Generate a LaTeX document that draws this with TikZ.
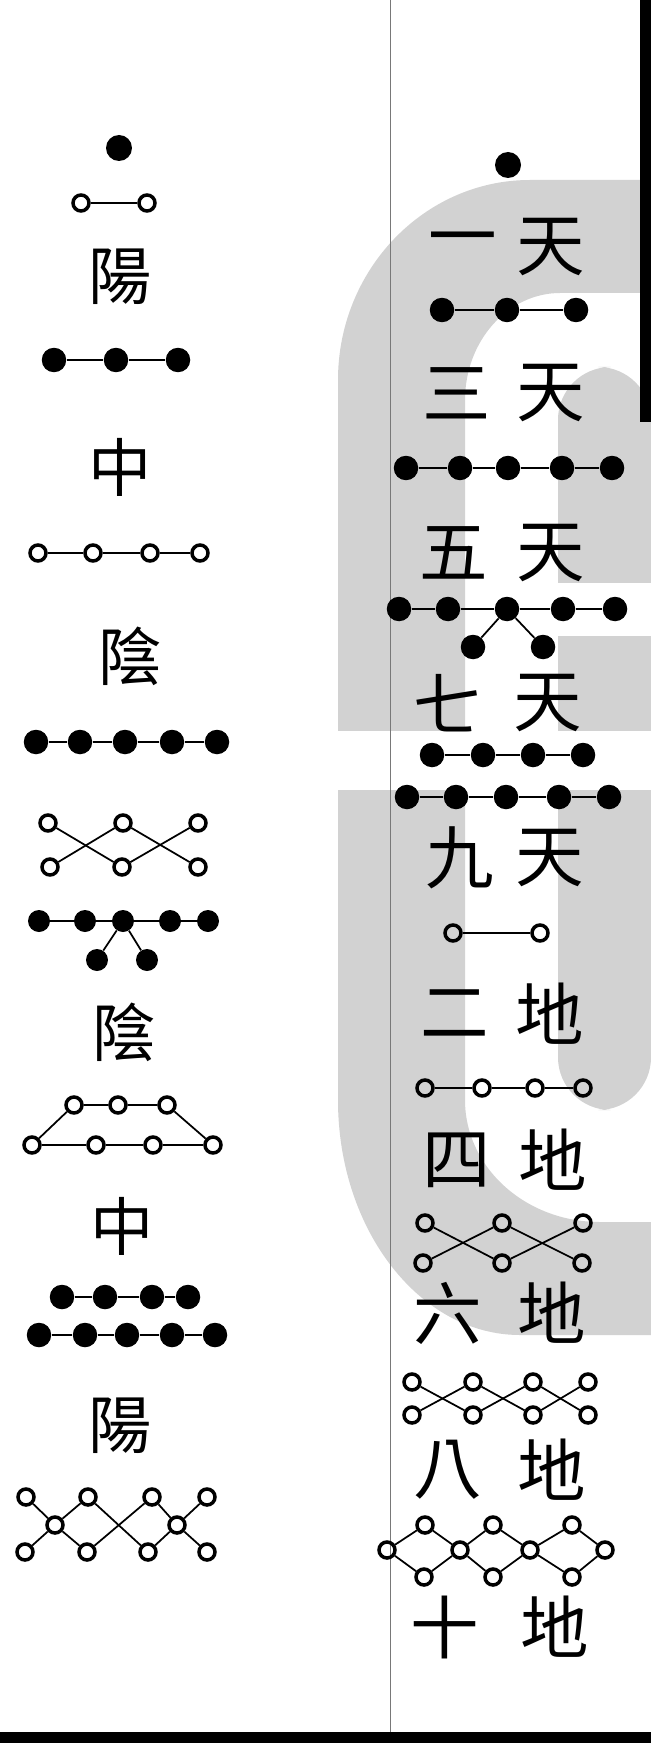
\documentclass[tikz,border=0pt]{standalone}
\usepackage{fontspec}
\newfontfamily\cjk{Noto Sans CJK TC}
\definecolor{wmgray}{RGB}{210,210,210}
\definecolor{rulegray}{RGB}{120,120,120}

\begin{document}
\begin{tikzpicture}[
    x=0.02cm, y=-0.02cm,
    bdot/.style={circle, fill=black, inner sep=0pt, minimum size=0.49cm},
    wdot/.style={circle, draw=black, line width=0.07cm, inner sep=0pt, minimum size=0.32cm},
    link/.style={line width=0.035cm},
    glyph/.style={font=\cjk\fontsize{36}{36}\selectfont, inner sep=0pt},
    glyphr/.style={font=\cjk\fontsize{39}{39}\selectfont, inner sep=0pt}
]
\useasboundingbox (0,0) rectangle (651,1743);
\fill[white] (0,0) rectangle (651,1743);

% ============ WATERMARK (BACKGROUND) ============
\fill[wmgray] (640,180) -- (530,180) .. controls (424,180) and (338,270) .. (338,380)
    -- (338,1100) .. controls (338,1230) and (420,1335) .. (520,1335) -- (651,1335)
    -- (651,1222) -- (600,1222) .. controls (525,1222) and (465,1167) .. (465,1100)
    -- (465,400) .. controls (465,341) and (508,293) .. (560,293) -- (640,293) -- cycle;
\fill[wmgray, rounded corners=30] (651,367) -- (558,367) -- (558,1110) -- (651,1110) -- cycle;
\fill[white] (555,583) rectangle (651,636);
\fill[white] (330,731) rectangle (651,790);

% page frame
\fill[black] (640,0) rectangle (651,422);
\fill[black] (0,1732) rectangle (651,1743);
\draw[rulegray, line width=0.02cm] (390,0) -- (390,1732);

% ============ LEFT COLUMN ============
\node[bdot, minimum size=0.52cm] (l1) at (119,148) {};

\node[wdot] (l2a) at (81,203) {};
\node[wdot] (l2b) at (147,203) {};
\draw[link] (l2a) -- (l2b);

\node[glyph] (yang1) at (120,277) {陽};

\node[bdot] (l3a) at (54,360) {};
\node[bdot] (l3b) at (116,360) {};
\node[bdot] (l3c) at (178,360) {};
\draw[link] (l3a) -- (l3b) -- (l3c);

\node[glyph] (zhong1) at (120,467) {中};

\node[wdot] (l4a) at (38,553) {};
\node[wdot] (l4b) at (93,553) {};
\node[wdot] (l4c) at (150,553) {};
\node[wdot] (l4d) at (200,553) {};
\draw[link] (l4a) -- (l4b) -- (l4c) -- (l4d);

\node[glyph] (yin1) at (130,656) {陰};

\node[bdot] (l5a) at (36,742) {};
\node[bdot] (l5b) at (80,742) {};
\node[bdot] (l5c) at (125,742) {};
\node[bdot] (l5d) at (172,742) {};
\node[bdot] (l5e) at (217,742) {};
\draw[link] (l5a) -- (l5b) -- (l5c) -- (l5d) -- (l5e);

% crossed six
\node[wdot] (l6t1) at (48,823) {};
\node[wdot] (l6t2) at (123,823) {};
\node[wdot] (l6t3) at (198,823) {};
\node[wdot] (l6b1) at (50,867) {};
\node[wdot] (l6b2) at (122,867) {};
\node[wdot] (l6b3) at (198,867) {};
\draw[link] (l6t1) -- (l6b2) -- (l6t3);
\draw[link] (l6b1) -- (l6t2) -- (l6b3);

% seven with pendants
\node[bdot, minimum size=0.44cm] (l7a) at (39,921) {};
\node[bdot, minimum size=0.44cm] (l7b) at (85,921) {};
\node[bdot, minimum size=0.44cm] (l7c) at (123,921) {};
\node[bdot, minimum size=0.44cm] (l7d) at (170,921) {};
\node[bdot, minimum size=0.44cm] (l7e) at (208,921) {};
\node[bdot, minimum size=0.44cm] (l7f) at (97,960) {};
\node[bdot, minimum size=0.44cm] (l7g) at (147,960) {};
\draw[link] (l7a) -- (l7b) -- (l7c) -- (l7d) -- (l7e);
\draw[link] (l7f) -- (l7c) -- (l7g);

\node[glyph] (yin2) at (124,1032) {陰};

% trapezoid
\node[wdot] (l8t1) at (74,1105) {};
\node[wdot] (l8t2) at (118,1105) {};
\node[wdot] (l8t3) at (167,1105) {};
\node[wdot] (l8b1) at (32,1145) {};
\node[wdot] (l8b2) at (96,1145) {};
\node[wdot] (l8b3) at (153,1145) {};
\node[wdot] (l8b4) at (213,1145) {};
\draw[link] (l8b1) -- (l8t1) -- (l8t2) -- (l8t3) -- (l8b4);
\draw[link] (l8b1) -- (l8b2) -- (l8b3) -- (l8b4);

\node[glyph] (zhong2) at (122,1226) {中};

\node[bdot] (l9a) at (62,1297) {};
\node[bdot] (l9b) at (105,1297) {};
\node[bdot] (l9c) at (152,1297) {};
\node[bdot] (l9d) at (188,1297) {};
\draw[link] (l9a) -- (l9b) -- (l9c) -- (l9d);
\node[bdot] (l9e) at (39,1335) {};
\node[bdot] (l9f) at (85,1335) {};
\node[bdot] (l9g) at (127,1335) {};
\node[bdot] (l9h) at (172,1335) {};
\node[bdot] (l9i) at (215,1335) {};
\draw[link] (l9e) -- (l9f) -- (l9g) -- (l9h) -- (l9i);

\node[glyph] (yang2) at (120,1426) {陽};

% ten
\node[wdot] (l10t1) at (26,1497) {};
\node[wdot] (l10t2) at (88,1497) {};
\node[wdot] (l10t3) at (152,1497) {};
\node[wdot] (l10t4) at (207,1497) {};
\node[wdot] (l10m1) at (55,1525) {};
\node[wdot] (l10m2) at (177,1525) {};
\node[wdot] (l10b1) at (25,1552) {};
\node[wdot] (l10b2) at (87,1552) {};
\node[wdot] (l10b3) at (148,1552) {};
\node[wdot] (l10b4) at (207,1552) {};
\draw[link] (l10t1) -- (l10m1) -- (l10b1);
\draw[link] (l10t2) -- (l10m1) -- (l10b2);
\draw[link] (l10t2) -- (l10b3) -- (l10m2);
\draw[link] (l10b2) -- (l10t3) -- (l10m2);
\draw[link] (l10t4) -- (l10m2) -- (l10b4);

% ============ RIGHT COLUMN ============
\node[bdot, minimum size=0.52cm] (r1) at (508,165) {};
\node[glyphr] (n1) at (463,247) {一};
\node[glyphr] (tian1) at (551,247) {天};

\node[bdot] (r3a) at (442,310) {};
\node[bdot] (r3b) at (507,310) {};
\node[bdot] (r3c) at (576,310) {};
\draw[link] (r3a) -- (r3b) -- (r3c);
\node[glyphr] (n3) at (457,393) {三};
\node[glyphr] (tian3) at (551,393) {天};

\node[bdot] (r5a) at (406,468) {};
\node[bdot] (r5b) at (460,468) {};
\node[bdot] (r5c) at (508,468) {};
\node[bdot] (r5d) at (562,468) {};
\node[bdot] (r5e) at (612,468) {};
\draw[link] (r5a) -- (r5b) -- (r5c) -- (r5d) -- (r5e);
\node[glyphr] (n5) at (454,553) {五};
\node[glyphr] (tian5) at (551,553) {天};

\node[bdot] (r7a) at (399,609) {};
\node[bdot] (r7b) at (448,609) {};
\node[bdot] (r7c) at (507,609) {};
\node[bdot] (r7d) at (563,609) {};
\node[bdot] (r7e) at (615,609) {};
\node[bdot] (r7f) at (473,647) {};
\node[bdot] (r7g) at (543,647) {};
\draw[link] (r7a) -- (r7b) -- (r7c) -- (r7d) -- (r7e);
\draw[link] (r7f) -- (r7c) -- (r7g);
\node[glyphr] (n7) at (448,703) {七};
\node[glyphr] (tian7) at (548,703) {天};

\node[bdot] (r9a) at (432,755) {};
\node[bdot] (r9b) at (483,755) {};
\node[bdot] (r9c) at (533,755) {};
\node[bdot] (r9d) at (583,755) {};
\draw[link] (r9a) -- (r9b) -- (r9c) -- (r9d);
\node[bdot] (r9e) at (407,797) {};
\node[bdot] (r9f) at (456,797) {};
\node[bdot] (r9g) at (506,797) {};
\node[bdot] (r9h) at (559,797) {};
\node[bdot] (r9i) at (609,797) {};
\draw[link] (r9e) -- (r9f) -- (r9g) -- (r9h) -- (r9i);
\node[glyphr] (n9) at (460,858) {九};
\node[glyphr] (tian9) at (550,858) {天};

\node[wdot] (r2a) at (453,933) {};
\node[wdot] (r2b) at (540,933) {};
\draw[link] (r2a) -- (r2b);
\node[glyphr] (n2) at (455,1014) {二};
\node[glyphr] (di2) at (550,1014) {地};

\node[wdot] (r4a) at (425,1088) {};
\node[wdot] (r4b) at (482,1088) {};
\node[wdot] (r4c) at (535,1088) {};
\node[wdot] (r4d) at (583,1088) {};
\draw[link] (r4a) -- (r4b) -- (r4c) -- (r4d);
\node[glyphr] (n4) at (457,1160) {四};
\node[glyphr] (di4) at (553,1160) {地};

\node[wdot] (r6t1) at (425,1223) {};
\node[wdot] (r6t2) at (502,1223) {};
\node[wdot] (r6t3) at (583,1223) {};
\node[wdot] (r6b1) at (423,1263) {};
\node[wdot] (r6b2) at (502,1263) {};
\node[wdot] (r6b3) at (582,1263) {};
\draw[link] (r6t1) -- (r6b2) -- (r6t3);
\draw[link] (r6b1) -- (r6t2) -- (r6b3);
\node[glyphr] (n6) at (448,1313) {六};
\node[glyphr] (di6) at (552,1313) {地};

\node[wdot] (r8t1) at (412,1382) {};
\node[wdot] (r8t2) at (473,1382) {};
\node[wdot] (r8t3) at (533,1382) {};
\node[wdot] (r8t4) at (588,1382) {};
\node[wdot] (r8b1) at (412,1415) {};
\node[wdot] (r8b2) at (473,1415) {};
\node[wdot] (r8b3) at (533,1415) {};
\node[wdot] (r8b4) at (588,1415) {};
\draw[link] (r8t1) -- (r8b2) -- (r8t3) -- (r8b4);
\draw[link] (r8b1) -- (r8t2) -- (r8b3) -- (r8t4);
\node[glyphr] (n8) at (448,1470) {八};
\node[glyphr] (di8) at (552,1470) {地};

\node[wdot] (r10m1) at (387,1550) {};
\node[wdot] (r10m2) at (460,1550) {};
\node[wdot] (r10m3) at (530,1550) {};
\node[wdot] (r10m4) at (605,1550) {};
\node[wdot] (r10t1) at (425,1525) {};
\node[wdot] (r10t2) at (493,1525) {};
\node[wdot] (r10t3) at (572,1525) {};
\node[wdot] (r10b1) at (424,1577) {};
\node[wdot] (r10b2) at (493,1577) {};
\node[wdot] (r10b3) at (572,1577) {};
\draw[link] (r10m1) -- (r10t1) -- (r10m2) -- (r10b1) -- (r10m1);
\draw[link] (r10m2) -- (r10t2) -- (r10m3) -- (r10b2) -- (r10m2);
\draw[link] (r10m3) -- (r10t3) -- (r10m4) -- (r10b3) -- (r10m3);
\node[glyphr] (n10) at (445,1627) {十};
\node[glyphr] (di10) at (555,1627) {地};

\end{tikzpicture}
\end{document}
